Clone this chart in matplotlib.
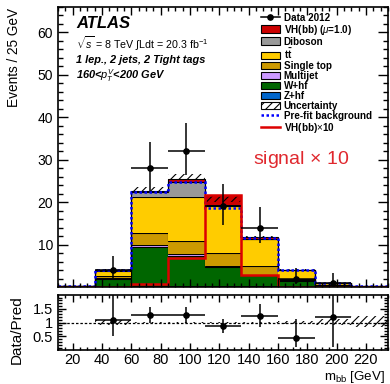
import numpy as np
import matplotlib
matplotlib.use('Agg')
import matplotlib.pyplot as plt
from matplotlib.patches import Patch
from matplotlib.lines import Line2D
from matplotlib.ticker import MultipleLocator

matplotlib.rcParams['font.family'] = ['Liberation Sans', 'DejaVu Sans']
matplotlib.rcParams['mathtext.fontset'] = 'custom'
matplotlib.rcParams['mathtext.rm'] = 'Liberation Sans'
matplotlib.rcParams['mathtext.it'] = 'Liberation Sans:italic'
matplotlib.rcParams['mathtext.bf'] = 'Liberation Sans:bold'
matplotlib.rcParams['hatch.linewidth'] = 0.8

# bins in m_bb [GeV]
bin_edges = [10, 35, 60, 85, 110, 135, 160, 185, 210, 235]

# stacked backgrounds / signal (events per bin), bottom -> top
zhf = [0.05, 0.1, 0.3, 0.3, 0.3, 0.2, 0.1, 0.1, 0.02]
whf = [0.1, 1.9, 9.1, 7.0, 4.4, 2.6, 1.4, 0.3, 0.08]
multijet = [0.0, 0.05, 0.4, 0.5, 0.3, 0.1, 0.05, 0.0, 0.0]
stop = [0.02, 0.5, 2.9, 3.0, 3.0, 2.1, 0.35, 0.1, 0.03]
ttbar = [0.1, 1.3, 8.6, 10.5, 11.0, 6.3, 2.0, 0.4, 0.1]
diboson = [0.0, 0.1, 1.2, 3.5, 0.4, 0.1, 0.05, 0.0, 0.0]
vh = [0.0, 0.02, 0.07, 0.7, 2.2, 0.3, 0.02, 0.0, 0.0]

unc_lo = [0.2, 3.8, 22.4, 25.4, 20.0, 11.5, 3.8, 0.8, 0.2]
unc_hi = [0.35, 4.3, 23.5, 26.7, 21.7, 12.1, 4.3, 1.0, 0.3]
prefit = [0.3, 4.0, 22.3, 24.7, 18.6, 11.5, 4.0, 0.9, 0.3]
signal_x10 = [0.0, 0.0, 0.7, 6.8, 21.7, 2.8, 0.1, 0.0, 0.0]

# data 2012
data_x = [47.5, 72.5, 97.5, 122.5, 147.5, 172.5, 197.5]
data_y = [4, 28, 32, 19, 14, 2, 1]
data_elo = [1.9, 5.3, 5.7, 4.4, 3.7, 1.3, 0.8]
data_ehi = [3.2, 6.3, 6.6, 5.4, 4.8, 2.6, 2.3]

# ratio panel
ratio_y = [1.10, 1.26, 1.28, 0.86, 1.22, 0.44, 1.20]
ratio_elo = [0.59, 0.26, 0.28, 0.22, 0.37, 0.32, 1.08]
ratio_ehi = [0.90, 0.30, 0.29, 0.26, 0.43, 0.68, 0.80]
rband_lo = [1.0, 0.90, 0.97, 0.97, 0.97, 0.97, 0.96, 0.90, 0.83]
rband_hi = [1.0, 1.10, 1.03, 1.03, 1.03, 1.03, 1.04, 1.12, 1.25]

components = [
    (zhf, '#0066cc', 'Z+hf'),
    (whf, '#006600', 'W+hf'),
    (multijet, '#cc99ff', 'Multijet'),
    (stop, '#cc9900', 'Single top'),
    (ttbar, '#ffcc00', r'$\mathbf{t\bar{t}}$'),
    (diboson, '#999999', 'Diboson'),
    (vh, '#cc0000', r'VH(bb) ($\mu$=1.0)'),
]

fig = plt.figure(figsize=(3.9, 3.84), dpi=100)
ax = fig.add_axes([58/390, 97/384, 330/390, 280/384])
rax = fig.add_axes([58/390, 34/384, 330/390, 55/384])

# stack
base = np.zeros(len(bin_edges) - 1)
for vals, col, lab in components:
    top = base + np.array(vals)
    ax.stairs(top, bin_edges, baseline=base, fill=True, facecolor=col,
              edgecolor='none')
    ax.stairs(top, bin_edges, baseline=None, color='black', lw=0.8)
    base = top

ax.stairs(unc_hi, bin_edges, baseline=unc_lo, fill=True, facecolor='none',
          edgecolor='black', hatch='////', lw=0)
ax.stairs(prefit, bin_edges, baseline=None, color='#0000ff', lw=1.8,
          linestyle=(0, (1, 1)))
ax.stairs(signal_x10, bin_edges, baseline=None, color='#dd0000', lw=1.8)
ax.errorbar(data_x, data_y, xerr=12.5, yerr=[data_elo, data_ehi], fmt='o',
            color='black', ms=3.8, elinewidth=1.1, capsize=0, zorder=10)

ax.set_xlim(10, 235)
ax.set_ylim(0.01, 66)
ax.set_yticks([10, 20, 30, 40, 50, 60])
ax.yaxis.set_minor_locator(MultipleLocator(2))
ax.xaxis.set_major_locator(MultipleLocator(20))
ax.xaxis.set_minor_locator(MultipleLocator(5))
ax.set_xticklabels([])
ax.tick_params(which='both', direction='in', top=True, right=True,
               labelsize=10, width=1)
ax.tick_params(axis='y', which='major', length=7)
ax.tick_params(axis='y', which='minor', length=3.5)
ax.tick_params(axis='x', which='major', length=6)
ax.tick_params(axis='x', which='minor', length=3)
for s in ax.spines.values():
    s.set_linewidth(1.2)

# texts
ax.text(0.055, 0.94, 'ATLAS', transform=ax.transAxes, fontsize=12,
        fontweight='bold', fontstyle='italic', va='center')
ax.text(0.055, 0.868, r'$\sqrt{s}$ = 8 TeV $\int$Ldt = 20.3 fb$^{-1}$',
        transform=ax.transAxes, fontsize=7.7, va='center')
ax.text(0.055, 0.81, '1 lep., 2 jets, 2 Tight tags', transform=ax.transAxes,
        fontsize=7.9, fontweight='bold', fontstyle='italic', va='center')
ax.text(0.055, 0.755, r'160<$p_{T}^{V}$<200 GeV', transform=ax.transAxes,
        fontsize=7.9, fontweight='bold', fontstyle='italic', va='center')
ax.text(0.59, 0.455, 'signal $\\times$ 10', transform=ax.transAxes,
        fontsize=14, color='#e0282e', va='center')

handles = [Line2D([], [], color='black', marker='o', ms=3.8, lw=1.1)]
labels = ['Data 2012']
for vals, col, lab in components[::-1]:
    handles.append(Patch(facecolor=col, edgecolor='black', lw=0.8))
    labels.append(lab)
handles.append(Patch(facecolor='white', edgecolor='black', hatch='////',
                     lw=0.8))
labels.append('Uncertainty')
handles.append(Line2D([], [], color='#0000ff', lw=1.8,
                      linestyle=(0, (1, 1))))
labels.append('Pre-fit background')
handles.append(Line2D([], [], color='#dd0000', lw=1.8))
labels.append(r'VH(bb)$\times$10')
leg = ax.legend(handles, labels, loc='upper left',
                bbox_to_anchor=(0.615, 0.98), frameon=False,
                prop={'size': 7.1, 'weight': 'bold'}, labelspacing=0.0,
                handlelength=1.9, handleheight=0.85, handletextpad=0.4,
                borderpad=0, borderaxespad=0)

# ratio panel
rax.stairs(rband_hi, bin_edges, baseline=rband_lo, fill=True,
           facecolor='none', edgecolor='black', hatch='////', lw=0)
rax.axhline(1.0, color='black', lw=0.9, linestyle=(0, (2, 1.5)))
rax.errorbar(data_x, ratio_y, xerr=12.5, yerr=[ratio_elo, ratio_ehi],
             fmt='o', color='black', ms=3.8, elinewidth=1.1, capsize=0,
             zorder=10)
rax.set_xlim(10, 235)
rax.set_ylim(0.01, 1.99)
rax.set_yticks([0.5, 1.0, 1.5])
rax.set_yticklabels(['0.5', '1', '1.5'])
rax.yaxis.set_minor_locator(MultipleLocator(0.1))
rax.xaxis.set_major_locator(MultipleLocator(20))
rax.xaxis.set_minor_locator(MultipleLocator(5))
rax.tick_params(which='both', direction='in', top=True, right=True,
                labelsize=10.5, width=1)
rax.tick_params(axis='y', which='major', length=6)
rax.tick_params(axis='y', which='minor', length=3)
rax.tick_params(axis='x', which='major', length=5)
rax.tick_params(axis='x', which='minor', length=2.5)
rax.tick_params(axis='x', pad=2)
for s in rax.spines.values():
    s.set_linewidth(1.2)

fig.text(14/390, 1 - 8/384, 'Events / 25 GeV', rotation=90, ha='center',
         va='top', fontsize=9.8)
fig.text(17/390, 1 - 330/384, 'Data/Pred', rotation=90, ha='center',
         va='center', fontsize=11)
fig.text(385/390, 1 - 377/384, r'm$_{\rm bb}$ [GeV]', ha='right',
         va='center', fontsize=9.6)

fig.savefig('out.png', dpi=100)
